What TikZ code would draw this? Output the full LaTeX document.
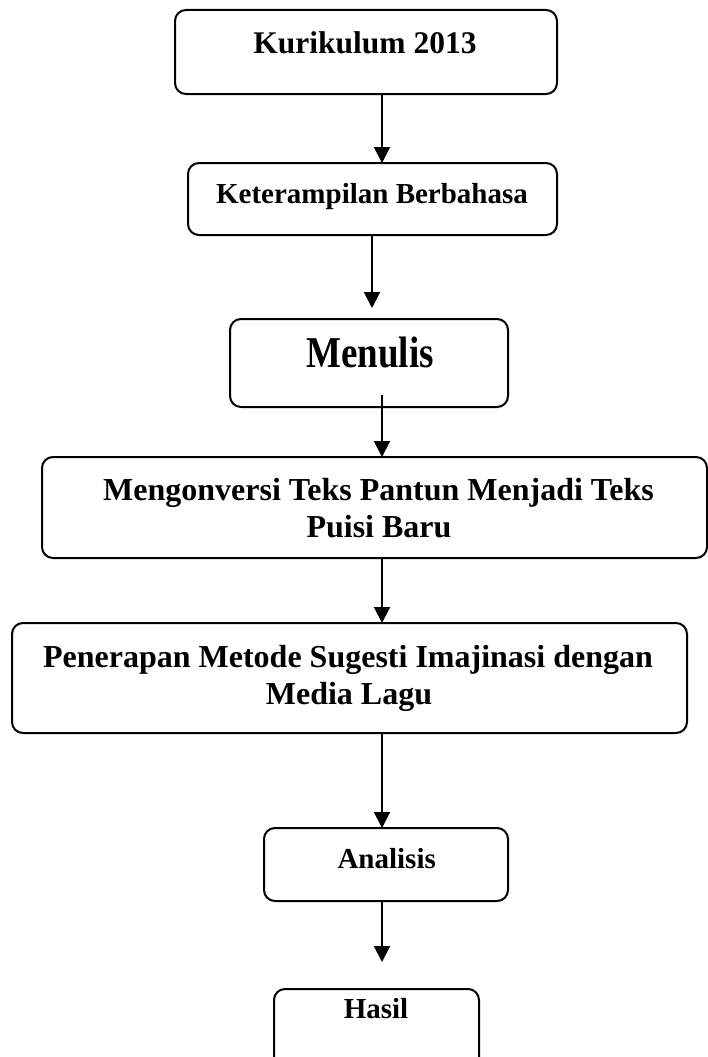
\documentclass[tikz,border=0pt]{standalone}
\usepackage{fontspec}
\setmainfont{Liberation Serif}
\usetikzlibrary{arrows.meta}
\tikzset{
  box/.style={draw, line width=2pt, rounded corners=11pt, inner sep=0pt, outer sep=0pt},
  lbl/.style={anchor=base, inner sep=0pt, font=\bfseries},
  arr/.style={line width=2pt, -{Triangle[width=16pt,length=16pt]}}
}
\begin{document}
\begin{tikzpicture}[x=1pt,y=-1pt]
\useasboundingbox (0,0) rectangle (708,1057);
\clip (0,0) rectangle (708,1057);
% boxes
\node[box, minimum width=382pt, minimum height=84pt] (b1) at (366,52) {};
\node[box, minimum width=369pt, minimum height=72pt] (b2) at (372.5,199) {};
\node[box, minimum width=278pt, minimum height=88pt] (b3) at (369,363) {};
\node[box, minimum width=665pt, minimum height=101pt] (b4) at (374.5,507.5) {};
\node[box, minimum width=675pt, minimum height=110pt] (b5) at (349.5,678) {};
\node[box, minimum width=244pt, minimum height=73pt] (b6) at (386,864.5) {};
\node[box, minimum width=205pt, minimum height=81pt] (b7) at (376.5,1029.5) {};
% texts
\node[lbl] (t1) at (365,53) {\fontsize{31.5}{37}\selectfont Kurikulum 2013};
\node[lbl] (t2) at (372,203) {\fontsize{29}{35}\selectfont Keterampilan Berbahasa};
\node[lbl] (t3) at (370,367) {\fontsize{37}{44}\selectfont\scalebox{1}[1.19]{Menulis}};
\node[lbl] (t4a) at (378.5,500) {\fontsize{32}{37}\selectfont Mengonversi Teks Pantun Menjadi Teks};
\node[lbl] (t4b) at (379,537) {\fontsize{32}{37}\selectfont Puisi Baru};
\node[lbl] (t5a) at (348,667) {\fontsize{32}{37}\selectfont Penerapan Metode Sugesti Imajinasi dengan};
\node[lbl] (t5b) at (349,704) {\fontsize{32}{37}\selectfont Media Lagu};
\node[lbl] (t6) at (386.7,868) {\fontsize{29}{35}\selectfont Analisis};
\node[lbl] (t7) at (376,1018) {\fontsize{29}{35}\selectfont Hasil};
% connector helpers
\coordinate (xa) at (382,0);
\coordinate (xb) at (372,0);
\coordinate (e2) at (372,308);
\coordinate (s3) at (382,395);
\coordinate (e6) at (382,962);
% connectors
\draw[arr] (b1.south -| xa) -- (b2.north -| xa);
\draw[arr] (b2.south -| xb) -- (e2);
\draw[arr] (s3) -- (b4.north -| xa);
\draw[arr] (b4.south -| xa) -- (b5.north -| xa);
\draw[arr] (b5.south -| xa) -- (b6.north -| xa);
\draw[arr] (b6.south -| xa) -- (e6);
\end{tikzpicture}
\end{document}
